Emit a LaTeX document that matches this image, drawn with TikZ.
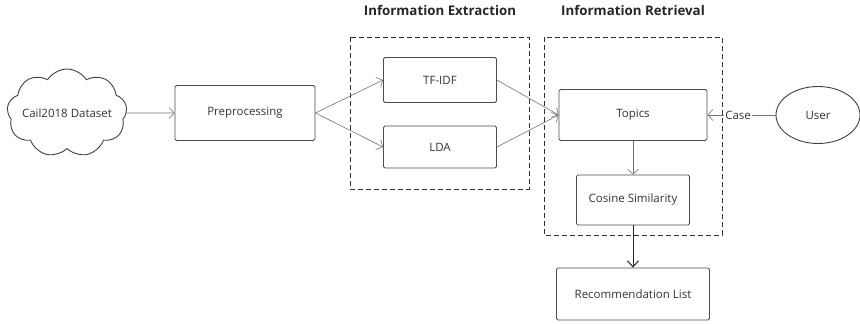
\documentclass[tikz,border=0pt]{standalone}
\usepackage{fontspec}
\setmainfont{Open Sans}
\usetikzlibrary{shapes.symbols,shapes.geometric,arrows.meta}
\begin{document}
\begin{tikzpicture}[x=1pt,y=-1pt,
  every node/.style={font=\fontsize{11.5}{13}\selectfont, text=black!80},
  box/.style={draw=black!70, line width=0.9pt, rounded corners=1.5pt, inner sep=0pt},
  group/.style={draw=black!80, dash pattern=on 5pt off 3pt, line width=0.8pt},
  conn/.style={draw=black!55, line width=0.6pt, -{Straight Barb[length=5pt,width=11pt]}},
  darkconn/.style={draw=black!85, line width=1pt, -{Straight Barb[length=6pt,width=11pt]}},
  title/.style={font=\fontsize{13.3}{15}\selectfont\bfseries, text=black!85}
]
\useasboundingbox (0,0) rectangle (860,324);
% groups
\draw[group] (350,37) rectangle (529,189);
\draw[group] (544,37) rectangle (722,235);
\node[title] (t1) at (440,10) {Information Extraction};
\node[title] (t2) at (633,10) {Information Retrieval};
% nodes
\node[cloud, cloud puffs=9, cloud puff arc=115, aspect=1.4, draw=black!75, line width=0.9pt,
      minimum width=120pt, minimum height=88pt, inner sep=0pt,
      label={center:Cail2018 Dataset}] (data) at (67,113) {};
\node[box, minimum width=140pt, minimum height=55pt] (pre) at (245,113) {Preprocessing};
\node[box, minimum width=113pt, minimum height=45pt] (tfidf) at (440,80) {TF-IDF};
\node[box, minimum width=113pt, minimum height=42pt] (lda) at (440,147) {LDA};
\node[box, minimum width=148pt, minimum height=51pt] (topics) at (633,115) {Topics};
\node[box, minimum width=113pt, minimum height=50pt] (cos) at (633,200) {Cosine Similarity};
\node[box, minimum width=153pt, minimum height=52pt] (rec) at (633,294) {Recommendation List};
\node[ellipse, draw=black!75, line width=0.9pt, minimum width=84pt, minimum height=57pt, inner sep=0pt] (user) at (818,115) {User};
% connectors
\draw[conn] (data.east) -- (pre.west);
\draw[conn] (pre.east) -- (tfidf.west);
\draw[conn] (pre.east) -- (lda.west);
\draw[conn] (tfidf.east) -- (topics.west);
\draw[conn] (lda.east) -- (topics.west);
\draw[conn] (topics.south) -- (cos.north);
\draw[darkconn] (cos.south) -- (rec.north);
\draw[conn] (user.west) -- node[pos=0.55, fill=white, inner sep=1pt] (case) {Case} (topics.east);
\end{tikzpicture}
\end{document}
